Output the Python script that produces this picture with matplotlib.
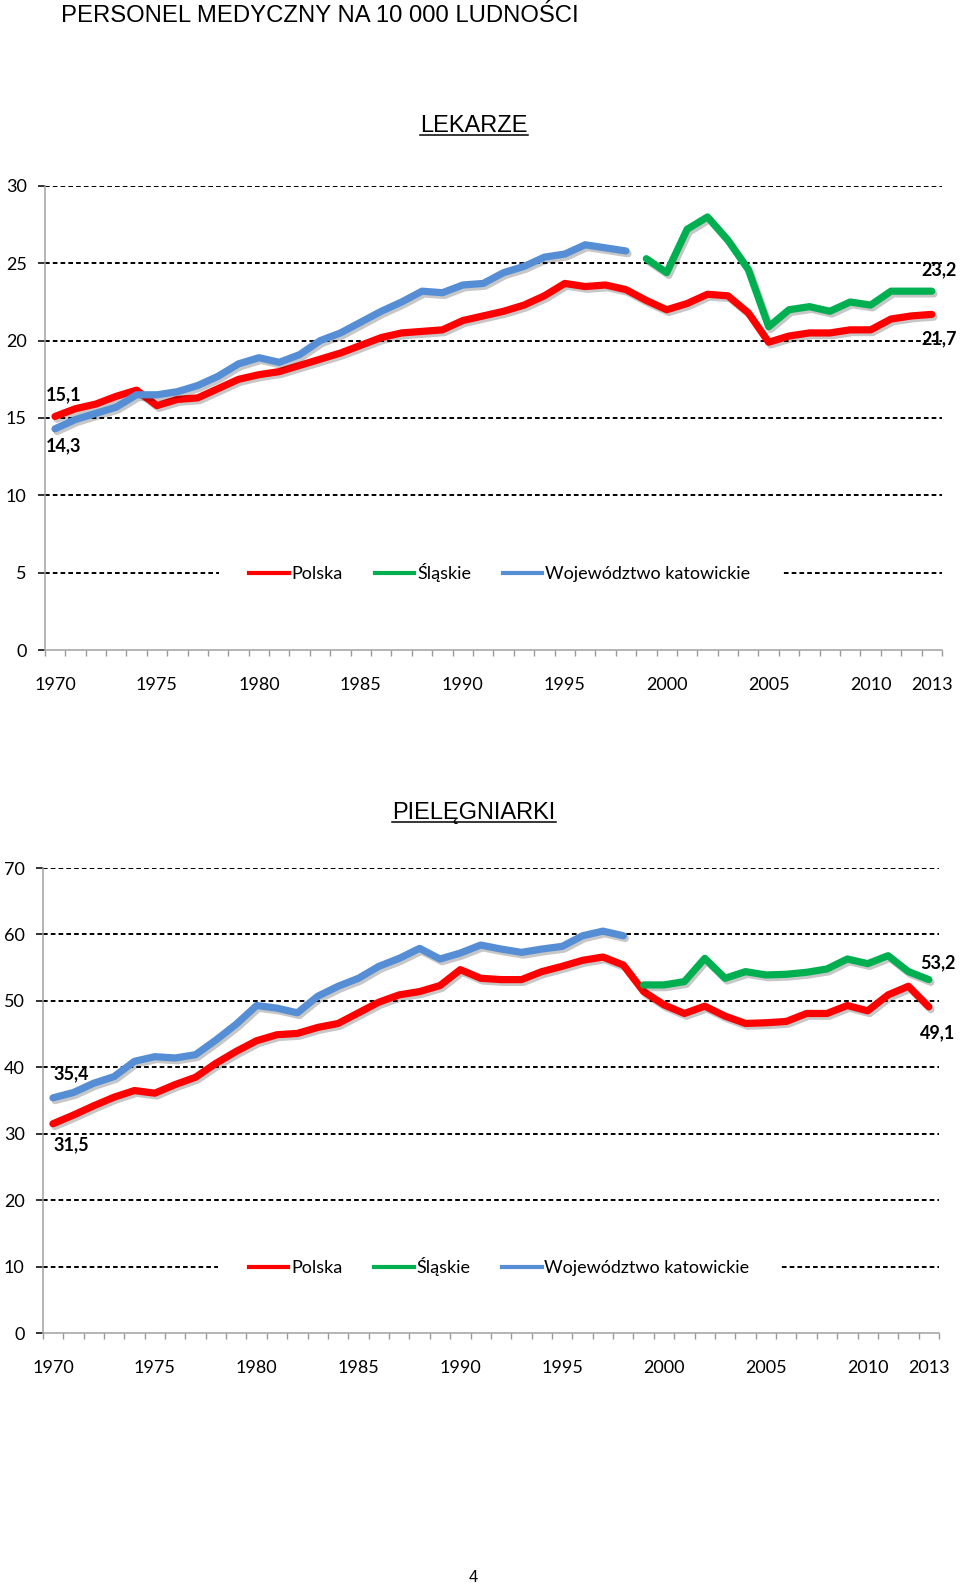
import numpy as np
import matplotlib
matplotlib.use("Agg")
import matplotlib.pyplot as plt
import matplotlib.patheffects as pe
from matplotlib.lines import Line2D
from matplotlib.transforms import blended_transform_factory, IdentityTransform

plt.rcParams['font.family'] = ['Lato', 'DejaVu Sans']

years = list(range(1970, 2014))
year_labels = ['1970', '1975', '1980', '1985', '1990', '1995', '2000', '2005', '2010', '2013']
series_names = ['Polska', 'Śląskie', 'Województwo katowickie']
colors = ['#FF0000', '#00B050', '#558ED5']

# LEKARZE (1970-2013, katowickie 1970-1998, slaskie 1999-2013)
lek_polska = [15.1, 15.6, 15.9, 16.4, 16.8, 15.8, 16.2, 16.3, 16.9, 17.5,
              17.8, 18.0, 18.4, 18.8, 19.2, 19.7, 20.2, 20.5, 20.6, 20.7,
              21.3, 21.6, 21.9, 22.3, 22.9, 23.7, 23.5, 23.6, 23.3, 22.6,
              22.0, 22.4, 23.0, 22.9, 21.8, 19.9, 20.3, 20.5, 20.5, 20.7,
              20.7, 21.4, 21.6, 21.7]
lek_katowickie = [14.3, 14.9, 15.3, 15.7, 16.5, 16.5, 16.7, 17.1, 17.7, 18.5,
                  18.9, 18.6, 19.1, 20.0, 20.5, 21.2, 21.9, 22.5, 23.2, 23.1,
                  23.6, 23.7, 24.4, 24.8, 25.4, 25.6, 26.2, 26.0, 25.8]
lek_slaskie = [25.3, 24.4, 27.2, 28.0, 26.5, 24.6, 20.9, 22.0, 22.2, 21.9,
               22.5, 22.3, 23.2, 23.2, 23.2]

# PIELEGNIARKI
piel_polska = [31.5, 32.8, 34.2, 35.5, 36.5, 36.1, 37.4, 38.5, 40.6, 42.4,
               44.0, 44.9, 45.1, 46.0, 46.6, 48.2, 49.8, 50.9, 51.4, 52.3,
               54.7, 53.4, 53.2, 53.2, 54.4, 55.2, 56.1, 56.6, 55.4, 51.4,
               49.4, 48.1, 49.2, 47.7, 46.6, 46.7, 46.9, 48.1, 48.1, 49.3,
               48.5, 50.9, 52.2, 49.1]
piel_katowickie = [35.4, 36.2, 37.6, 38.6, 40.9, 41.6, 41.4, 41.9, 44.1, 46.5,
                   49.3, 48.9, 48.2, 50.7, 52.2, 53.4, 55.2, 56.4, 57.9, 56.3,
                   57.2, 58.4, 57.8, 57.3, 57.8, 58.2, 59.8, 60.5, 59.8]
piel_slaskie = [52.4, 52.4, 52.9, 56.4, 53.4, 54.4, 53.9, 54.0, 54.3, 54.8,
                56.3, 55.6, 56.8, 54.4, 53.2]


def fmt(v):
    return ('%.1f' % v).replace('.', ',')


def draw_chart(ax, polska, slaskie, katow, ymax, ystep, legend_y, legend_x, labels):
    x_all = np.arange(len(years))
    x_kat = x_all[:len(katow)]
    x_sl = x_all[len(years) - len(slaskie):]
    shadow = [pe.SimpleLineShadow(offset=(1.5, -2), alpha=0.22), pe.Normal()]
    for xs, ys, c in ((x_all, polska, colors[0]), (x_sl, slaskie, colors[1]), (x_kat, katow, colors[2])):
        ax.plot(xs, ys, color=c, lw=5.2, solid_joinstyle='round',
                solid_capstyle='round', path_effects=shadow, zorder=3)

    ax.set_xlim(-0.5, len(years) - 0.5)
    ax.set_ylim(0, ymax)
    ax.set_yticks(np.arange(0, ymax + 1, ystep))
    ax.yaxis.grid(True, color='black', linestyle=(0, (2.4, 1.6)), linewidth=1.4)
    ax.get_ygridlines()[0].set_visible(False)
    ax.set_axisbelow(True)

    # category boundaries as tick marks, labels at selected years
    ax.set_xticks(np.arange(-0.5, len(years), 1))
    ax.set_xticklabels([])
    ax.set_xticks([years.index(int(l)) for l in year_labels], minor=True)
    ax.set_xticklabels(year_labels, minor=True)
    ax.tick_params(axis='x', which='major', direction='out', length=4.5, width=1, color='#999999')
    ax.tick_params(axis='x', which='minor', length=0, pad=19.5, labelsize=13)
    ax.tick_params(axis='y', direction='out', length=5, width=1.3, color='#222222', pad=8, labelsize=13)

    for s in ('top', 'right'):
        ax.spines[s].set_visible(False)
    for s in ('left', 'bottom'):
        ax.spines[s].set_color('#A0A0A0')
        ax.spines[s].set_linewidth(1.1)

    for xi, v, dx, dy in labels:
        ax.annotate(fmt(v), xy=(xi, v), xytext=(dx, dy), textcoords='offset pixels',
                    ha='left', va='center', fontsize=13, fontweight='bold', zorder=6)

    handles = [Line2D([], [], color=c, lw=3) for c in colors]
    leg = ax.legend(handles, series_names, loc='center', ncol=3,
                    bbox_to_anchor=(legend_x, legend_y),
                    bbox_transform=blended_transform_factory(ax.transAxes, ax.transData),
                    fontsize=13, handlelength=2.2, handletextpad=0.15,
                    columnspacing=1.75, borderpad=1.7, fancybox=False,
                    frameon=True, framealpha=1)
    leg.get_frame().set_edgecolor('none')
    leg.get_frame().set_facecolor('white')


fig = plt.figure(figsize=(9.6, 15.88), dpi=100)
W, H = 960.0, 1588.0

ax1 = fig.add_axes([44.8 / W, 1 - 650 / H, 897.2 / W, 464 / H])
draw_chart(ax1, lek_polska, lek_slaskie, lek_katowickie, 30, 5, 5, 0.507,
           [(0, lek_polska[0], -9, 22), (0, lek_katowickie[0], -9, -17),
            (43, lek_slaskie[-1], -10, 21), (43, lek_polska[-1], -10, -24)])

ax2 = fig.add_axes([42.8 / W, 1 - 1333 / H, 896.2 / W, 465 / H])
draw_chart(ax2, piel_polska, piel_slaskie, piel_katowickie, 70, 10, 10, 0.509,
           [(0, piel_katowickie[0], 0, 24), (0, piel_polska[0], 0, -21),
            (43, piel_slaskie[-1], -9, 17), (43, piel_polska[-1], -9, -26)])

fig.text(61 / W, 1 - 22.5 / H, 'PERSONEL MEDYCZNY NA 10 000 LUDNOŚCI',
         ha='left', va='baseline', fontsize=17.2, family='Liberation Sans')


def underlined(xc, ybase, s):
    t = fig.text(xc / W, 1 - ybase / H, s, ha='center', va='baseline',
                 fontsize=17, family='Liberation Sans')
    fig.canvas.draw()
    bb = t.get_window_extent()
    yl = H - ybase - 3
    fig.add_artist(Line2D([bb.x0, bb.x1], [yl, yl], color='black', lw=1.1,
                          transform=IdentityTransform()))


underlined(474, 131.5, 'LEKARZE')
underlined(474, 819, 'PIELĘGNIARKI')

fig.text(473 / W, 1 - 1577 / H, '4', ha='center', va='center', fontsize=12,
         family='Liberation Sans')

fig.savefig('out.png', dpi=100)
